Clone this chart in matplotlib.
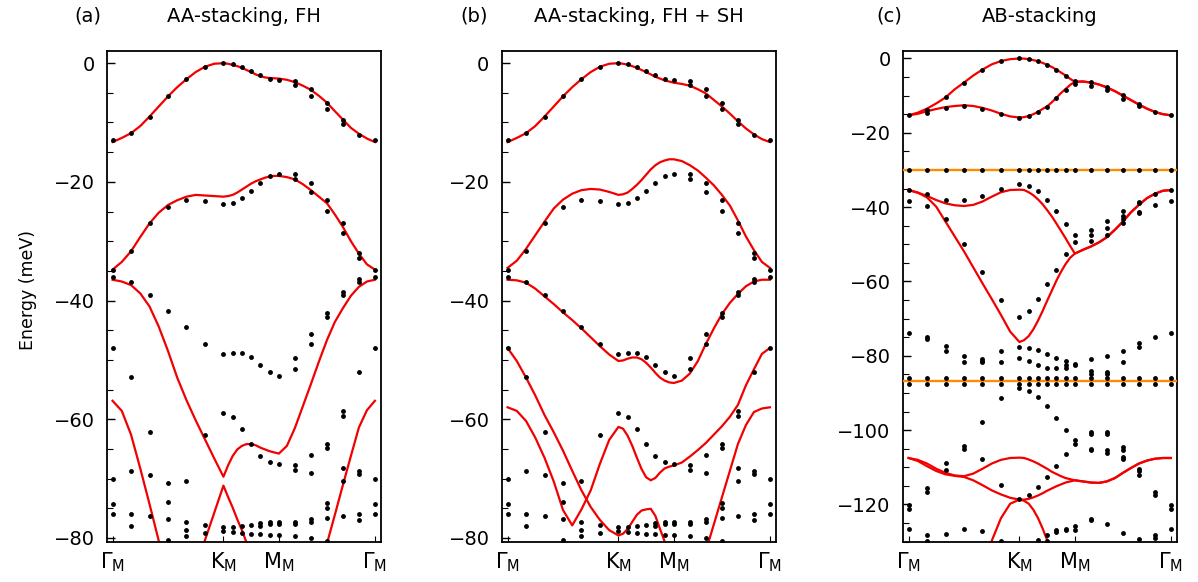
"""Moire band structures: DFT dots vs continuum model (red), three stackings."""

import numpy as np
import matplotlib
matplotlib.use("Agg")
import matplotlib.pyplot as plt
from matplotlib.ticker import MultipleLocator

plt.rcParams["font.family"] = ["DejaVu Sans"]
plt.rcParams["mathtext.fontset"] = "dejavusans"

nan = np.nan

# k-path Gamma-K-M-Gamma, segment lengths in units of |Gamma K|
seg = [1.0, 0.5, np.sqrt(3) / 2]
klabels = [r"$\Gamma_\mathrm{M}$", r"$\mathrm{K}_\mathrm{M}$",
           r"$\mathrm{M}_\mathrm{M}$", r"$\Gamma_\mathrm{M}$"]

# ---- DFT dots (meV), one list per k-point (6 steps per segment) ----
dots_aa = [
    [-13.0, -34.8, -36.1, -48.0, -70.1, -74.3, -75.9],
    [-11.8, -31.7, -36.8, -52.9, -68.8, -76.0, -78.0],
    [-9.0, -27.0, -39.1, -62.1, -69.4, -76.4],
    [-5.6, -24.2, -41.8, -70.7, -73.9, -76.8, -80.3],
    [-2.7, -23.0, -44.5, -70.4, -77.3, -78.7, -79.7],
    [-0.7, -23.3, -47.4, -62.7, -77.9, -79.2],
    [0.0, -23.8, -49.0, -58.9, -78.1, -78.8],
    [-0.2, -23.5, -48.8, -59.7, -78.1, -79.0],
    [-0.7, -22.7, -48.9, -61.7, -78.0, -79.1],
    [-1.3, -21.5, -49.6, -64.1, -77.8, -79.3],
    [-2.0, -20.2, -50.9, -66.2, -77.5, -78.0, -79.4],
    [-2.6, -19.0, -52.1, -67.3, -77.3, -77.7, -79.5],
    [-2.8, -18.6, -52.7, -67.5, -77.3, -77.7, -79.5],
    [-3.0, -3.7, -18.7, -19.6, -49.7, -51.6, -67.7, -68.5, -77.4, -77.7, -79.7],
    [-4.4, -5.6, -20.2, -21.7, -45.7, -47.4, -66.0, -69.0, -76.9, -77.4, -80.1],
    [-6.7, -7.8, -23.0, -24.9, -42.1, -42.7, -64.1, -64.9, -74.1, -75.0, -76.6, -80.6],
    [-9.5, -10.2, -27.0, -28.7, -38.6, -39.1, -58.7, -59.5, -68.2, -70.4, -76.3],
    [-12.1, -32.0, -32.8, -36.3, -36.9, -52.0, -68.7, -69.3, -76.0, -77.0],
    [-13.0, -34.9, -36.1, -48.0, -70.1, -74.3, -76.0],
]

dots_ab = [
    [-15.3, -30.0, -35.4, -38.4, -74.0, -85.9, -87.5, -120.2, -121.1, -126.5],
    [-13.9, -14.6, -30.0, -36.6, -39.6, -75.0, -75.5, -85.9, -87.5, -115.6, -116.7, -128.3, -129.9],
    [-10.5, -13.3, -30.0, -38.1, -43.3, -77.4, -78.8, -85.9, -87.5, -108.8, -110.8, -127.9],
    [-6.5, -12.8, -30.0, -38.1, -49.8, -80.0, -81.8, -85.9, -87.5, -104.4, -105.2, -126.6],
    [-3.0, -13.5, -30.0, -37.0, -57.4, -80.9, -81.4, -81.8, -85.9, -87.5, -97.8, -107.9, -127.2],
    [-0.7, -14.9, -30.0, -35.0, -65.1, -78.7, -81.8, -85.9, -87.5, -91.4, -114.7, -129.7],
    [0.0, -15.9, -30.0, -33.8, -69.6, -77.6, -80.6, -85.9, -87.5, -88.8, -118.4],
    [-0.2, -15.5, -30.0, -34.3, -68.0, -77.8, -81.3, -85.9, -87.5, -89.5, -117.5],
    [-0.7, -14.4, -30.0, -35.7, -64.8, -78.5, -82.6, -85.9, -87.5, -91.0, -115.3, -129.5],
    [-1.7, -13.0, -30.0, -38.1, -60.8, -79.4, -83.4, -85.9, -87.5, -93.6, -112.6, -128.3, -129.7],
    [-3.0, -10.7, -30.0, -41.1, -56.8, -80.5, -83.4, -85.9, -87.5, -96.7, -109.7, -126.8, -127.4],
    [-4.6, -8.5, -30.0, -44.5, -52.5, -81.5, -82.4, -83.3, -85.9, -87.5, -100.1, -106.5, -126.5, -127.0],
    [-6.1, -6.9, -30.0, -47.6, -49.4, -82.1, -82.6, -85.9, -87.5, -102.7, -103.8, -125.9, -126.8],
    [-6.4, -7.5, -30.0, -46.2, -47.6, -49.1, -80.9, -84.2, -84.8, -85.9, -87.5, -100.5, -101.1,
     -105.0, -105.4, -123.8, -124.3],
    [-7.8, -8.5, -30.0, -43.8, -45.6, -47.4, -80.1, -84.3, -85.0, -85.9, -87.5, -100.5, -101.1,
     -105.4, -106.1, -125.2],
    [-9.8, -10.8, -30.0, -41.1, -42.3, -43.1, -44.4, -78.8, -81.7, -85.9, -87.5, -104.5, -105.4,
     -107.2, -107.9, -127.6],
    [-12.3, -12.8, -30.0, -38.6, -39.0, -41.3, -41.7, -76.5, -77.6, -85.9, -87.5, -110.4, -111.1,
     -112.0, -129.2],
    [-14.5, -30.0, -36.5, -39.3, -74.9, -85.9, -87.5, -116.7, -117.4, -128.3, -129.0],
    [-15.3, -30.0, -35.4, -38.4, -74.0, -85.9, -87.5, -120.2, -121.1, -126.5],
]

# ---- continuum-model bands (meV), 12 samples per segment ----
bands_fh = [
    [-13.3, -12.6, -11.8, -10.6, -9.0, -7.3, -5.6, -4.05, -2.7, -1.5, -0.6, -0.1, 0.0,
     -0.1, -0.3, -0.5, -0.8, -1.15, -1.5, -1.9, -2.2, -2.4, -2.5, -2.55, -2.6,
     -2.8, -3.2, -3.8, -4.5, -5.5, -6.65, -8.1, -9.5, -10.9, -11.9, -12.7, -13.3],
    [-34.8, -33.5, -31.7, -29.3, -27.0, -25.2, -23.9, -23.1, -22.5, -22.2, -22.3, -22.4, -22.5,
     -22.4, -22.2, -21.8, -21.3, -20.8, -20.3, -19.9, -19.6, -19.3, -19.1, -19.0, -19.0,
     -19.2, -19.6, -20.4, -21.4, -22.5, -23.6, -25.5, -27.6, -30.0, -32.1, -33.9, -34.8],
    [-36.5, -36.8, -37.4, -38.8, -41.0, -44.4, -48.5, -53.0, -56.8, -60.2, -63.4, -66.6, -69.7,
     -67.8, -66.2, -65.1, -64.5, -64.2, -64.2, -64.4, -64.8, -65.1, -65.4, -65.6, -65.8,
     -64.5, -61.5, -57.8, -54.1, -50.3, -46.7, -43.6, -41.3, -39.2, -37.7, -36.8, -36.5],
    [nan, nan, nan, nan, nan, nan, nan, nan, nan, -85.0, -80.4, -75.8, -71.2,
     -73.1, -74.9, -76.9, -78.7, -80.8, -82.7, nan, nan, nan, nan, nan, nan,
     nan, nan, nan, nan, nan, nan, nan, nan, nan, nan, nan, nan],
    [-56.9, -58.6, -62.6, -68.3, -74.3, -80.5, -86.5, nan, nan, nan, nan, nan, nan,
     nan, nan, nan, nan, nan, nan, nan, nan, nan, nan, nan, nan,
     nan, nan, nan, nan, -86.0, -81.0, -76.1, -71.1, -66.2, -61.4, -58.5, -56.9],
]

bands_fhsh = [
    [-13.3, -12.6, -11.8, -10.6, -9.0, -7.3, -5.6, -4.05, -2.7, -1.5, -0.6, -0.1, 0.0,
     -0.1, -0.25, -0.5, -0.8, -1.15, -1.5, -1.9, -2.3, -2.6, -2.9, -3.1, -3.3,
     -3.5, -3.8, -4.4, -5.1, -6.2, -7.3, -8.5, -9.8, -11.0, -12.0, -12.8, -13.3],
    [-34.5, -33.3, -31.3, -29.0, -26.7, -24.5, -23.0, -22.0, -21.4, -21.2, -21.3, -21.7, -22.2,
     -22.1, -21.8, -21.2, -20.5, -19.7, -18.8, -17.9, -17.2, -16.7, -16.4, -16.2, -16.2,
     -16.5, -17.2, -18.1, -19.3, -20.6, -22.2, -24.0, -26.5, -29.2, -31.5, -33.5, -34.5],
    [-36.5, -36.6, -37.0, -38.0, -39.3, -40.6, -42.0, -43.3, -44.7, -46.2, -47.7, -49.1, -50.2,
     -50.1, -49.8, -49.6, -49.6, -49.9, -50.5, -51.3, -52.2, -53.0, -53.5, -53.8, -53.9,
     -53.5, -52.3, -50.2, -47.3, -44.7, -42.3, -40.4, -38.9, -37.6, -36.8, -36.5, -36.5],
    [-48.0, -50.2, -53.0, -56.0, -59.3, -62.2, -65.3, -68.7, -72.0, -74.8, -77.0, -78.7, -79.6,
     -79.3, -78.5, -77.3, -76.1, -75.4, -75.2, -75.1, -76.3, -78.5, -80.6, -83.0, nan,
     nan, nan, nan, nan, nan, nan, nan, nan, nan, nan, nan, nan],
    [-58.0, -58.6, -60.3, -63.1, -66.5, -70.5, -75.3, -77.9, -75.2, -72.0, -67.5, -63.5, -61.3,
     -61.6, -62.8, -64.5, -66.5, -68.4, -69.8, -70.3, -69.9, -69.0, -68.3, -68.0, -67.8,
     -67.3, -66.3, -65.2, -64.0, -62.6, -61.2, -59.6, -57.6, -54.3, -51.6, -49.0, -48.0],
    [nan, nan, nan, nan, nan, nan, nan, nan, nan, nan, nan, nan, nan,
     nan, nan, nan, nan, nan, nan, nan, nan, nan, nan, nan, nan,
     nan, nan, -87.0, -82.2, -77.7, -73.2, -68.7, -64.2, -61.0, -58.8, -58.2, -58.0],
]

bands_ab = [
    [-15.3, -14.6, -13.5, -12.1, -10.5, -8.3, -6.5, -4.6, -3.0, -1.6, -0.7, -0.2, 0.0,
     -0.05, -0.2, -0.45, -0.75, -1.2, -1.7, -2.3, -3.0, -3.8, -4.6, -5.5, -6.3,
     -6.2, -6.5, -7.0, -7.8, -8.8, -10.0, -11.2, -12.4, -13.5, -14.4, -15.0, -15.3],
    [-15.3, -14.9, -14.2, -13.6, -13.1, -12.8, -12.6, -12.8, -13.3, -14.0, -14.9, -15.6, -15.9,
     -15.8, -15.5, -15.0, -14.4, -13.6, -12.9, -11.8, -10.6, -9.3, -8.2, -7.1, -6.3,
     -6.2, -6.5, -7.0, -7.8, -8.8, -10.0, -11.2, -12.4, -13.5, -14.4, -15.0, -15.3],
    [-35.4, -36.1, -37.0, -38.1, -39.0, -39.5, -39.7, -39.4, -38.5, -37.2, -36.0, -35.4, -35.3,
     -35.4, -36.0, -36.8, -37.9, -39.2, -40.8, -42.5, -44.4, -46.4, -48.4, -50.5, -52.5,
     -51.5, -50.6, -49.5, -48.1, -46.1, -43.9, -41.4, -39.4, -37.6, -36.4, -35.6, -35.4],
    [-35.4, -36.1, -37.4, -39.9, -43.9, -47.9, -51.9, -56.2, -60.5, -64.7, -69.0, -73.5, -76.3,
     -75.8, -74.7, -72.9, -70.6, -68.0, -65.2, -62.5, -59.8, -57.4, -55.3, -53.6, -52.5,
     -51.5, -50.6, -49.5, -48.1, -46.1, -43.9, -41.4, -39.4, -37.6, -36.4, -35.6, -35.4],
    [-107.5, -108.0, -109.0, -110.4, -111.5, -112.2, -112.4, -111.7, -110.4, -109.0, -108.0, -107.5, -107.4,
     -107.5, -107.9, -108.4, -109.0, -109.7, -110.4, -111.2, -111.8, -112.4, -112.9, -113.2, -113.5,
     -113.8, -114.1, -114.2, -113.8, -112.9, -111.5, -110.2, -109.0, -108.2, -107.7, -107.5, -107.5],
    [-107.5, -108.3, -109.7, -111.0, -111.9, -112.3, -112.6, -113.5, -114.8, -116.2, -117.3, -118.2, -118.7,
     -118.7, -118.5, -118.1, -117.6, -117.0, -116.3, -115.7, -115.1, -114.6, -114.1, -113.8, -113.5,
     -113.8, -114.1, -114.2, -113.8, -112.9, -111.5, -110.2, -109.0, -108.2, -107.7, -107.5, -107.5],
    [nan, nan, nan, nan, nan, nan, nan, nan, -137.0, -129.8, -123.7, -119.8, -118.7,
     -119.0, -119.8, -121.4, -123.6, -126.4, -129.6, -133.5, nan, nan, nan, nan, nan,
     nan, nan, nan, nan, nan, nan, nan, nan, nan, nan, nan, nan],
]
flat_ab = [-30.0, -86.7]  # flat bands (orange)

titles = ["AA-stacking, FH", "AA-stacking, FH + SH", "AB-stacking"]
tags = ["(a)", "(b)", "(c)"]
ylims = [(-80.7, 2.05), (-80.7, 2.05), (-130.1, 2.0)]

RED = "#f20000"
ORANGE = "#ff8c00"


def kpath(n):
    ends = np.concatenate([[0.0], np.cumsum(seg)])
    pts = [np.linspace(ends[i], ends[i + 1], n, endpoint=False) for i in range(3)]
    return np.concatenate(pts + [[ends[-1]]]), ends


def main():
    k_dots, ends = kpath(6)
    k_line, _ = kpath(12)

    fig = plt.figure(figsize=(11.98, 5.82), dpi=100)
    lefts = [107, 502, 903]
    panels = [(dots_aa, bands_fh, []), (dots_aa, bands_fhsh, []), (dots_ab, bands_ab, flat_ab)]
    for i, (dots, bands, flats) in enumerate(panels):
        ax = fig.add_axes([lefts[i] / 1198, 40 / 582, 274 / 1198, 491 / 582])
        for b in bands:
            assert len(b) == len(k_line)
            ax.plot(k_line, b, color=RED, lw=1.6, zorder=2)
        for f in flats:
            ax.axhline(f, color=ORANGE, lw=1.7, zorder=3)
        xs = np.concatenate([[k] * len(d) for k, d in zip(k_dots, dots)])
        ys = np.concatenate(dots)
        ax.plot(xs, ys, "o", color="black", ms=3.5, mew=0, zorder=4)

        ax.set_xlim(-0.05, ends[-1] + 0.055)
        ax.set_ylim(*ylims[i])
        ax.set_xticks(ends)
        ax.set_xticklabels(klabels)
        ax.yaxis.set_major_locator(MultipleLocator(20))
        ax.yaxis.set_minor_locator(MultipleLocator(5))
        ax.tick_params(axis="y", which="major", direction="in", length=6, width=1,
                       labelsize=14, pad=9)
        ax.tick_params(axis="y", which="minor", direction="in", length=4, width=0.8)
        ax.tick_params(axis="x", direction="in", length=4, width=0.8, labelsize=15, pad=6)
        for s in ax.spines.values():
            s.set_linewidth(1.3)

        cx = (lefts[i] + 137) / 1198
        fig.text(cx, 1 - 16 / 582, titles[i], ha="center", va="center", fontsize=14)
        tx = [88, 474, 889][i] / 1198
        fig.text(tx, 1 - 16 / 582, tags[i], ha="center", va="center", fontsize=14)

    fig.text(28 / 1198, 0.502, "Energy (meV)", rotation=90, ha="center", va="center",
             fontsize=12.5)
    fig.savefig("out.png", dpi=100)


if __name__ == "__main__":
    main()
